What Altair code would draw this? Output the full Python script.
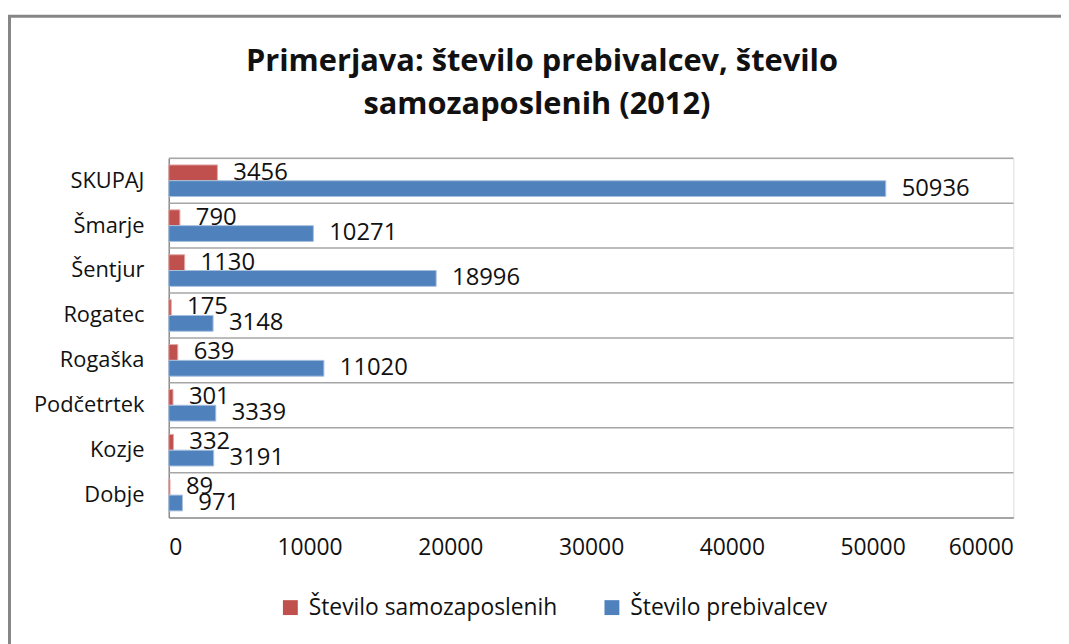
import altair as alt
import pandas as pd

categories = ["SKUPAJ", "Šmarje", "Šentjur", "Rogatec", "Rogaška", "Podčetrtek", "Kozje", "Dobje"]
series = ["Število samozaposlenih", "Število prebivalcev"]
samozaposleni = [3456, 790, 1130, 175, 639, 301, 332, 89]
prebivalci = [50936, 10271, 18996, 3148, 11020, 3339, 3191, 971]
x_ticks = [0, 10000, 20000, 30000, 40000, 50000, 60000]
colors = ["#C0504D", "#4F81BD"]
outline = ["#E0A9A7", "#A7C0DE"]
title_lines = ["Primerjava: število prebivalcev, število", "samozaposlenih (2012)"]

rows = []
for c, s, p in zip(categories, samozaposleni, prebivalci):
    rows.append({"kraj": c, "serija": series[0], "vrednost": s})
    rows.append({"kraj": c, "serija": series[1], "vrednost": p})
df = pd.DataFrame(rows)
cat_df = pd.DataFrame({"kraj": categories})
title_df = pd.DataFrame({"t": title_lines, "line": [0, 1]})

FONT = "Open Sans"
W, H = 851, 362

y_enc = alt.Y("kraj:N", sort=categories, title=None,
              scale=alt.Scale(domain=categories, paddingInner=0, paddingOuter=0),
              axis=alt.Axis(domain=True, domainColor="#8C8C8C", domainWidth=1.5,
                            ticks=False, grid=False, labelFont=FONT, labelFontSize=22,
                            labelColor="#111111", labelPadding=25, labelLimit=300))
yoff = alt.YOffset("serija:N", sort=series,
                   scale=alt.Scale(domain=series, paddingInner=0, paddingOuter=0.42))
x_enc = alt.X("vrednost:Q", title=None,
              scale=alt.Scale(domain=[0, 60000], nice=False),
              axis=alt.Axis(values=x_ticks, grid=False, ticks=False, domain=True,
                            domainColor="#8C8C8C", domainWidth=1.5, labelFont=FONT,
                            labelFontSize=23, labelColor="#111111", labelPadding=19,
                            format="d"))

frame = alt.Chart(pd.DataFrame({"f": [0]})).mark_rect(
    filled=False, stroke="#868686", strokeWidth=3
).encode(x=alt.value(-160.5), x2=alt.value(1200), y=alt.value(-143), y2=alt.value(800))

title1 = alt.Chart(title_df).transform_filter("datum.line == 0").mark_text(
    font=FONT, fontSize=31, fontWeight="bold", color="#111111",
    align="center", baseline="middle"
).encode(text="t:N", x=alt.value(376), y=alt.value(-97))

title2 = alt.Chart(title_df).transform_filter("datum.line == 1").mark_text(
    font=FONT, fontSize=31, fontWeight="bold", color="#111111",
    align="center", baseline="middle"
).encode(text="t:N", x=alt.value(371), y=alt.value(-54))

grid = alt.Chart(cat_df).mark_rule(color="#A6A6A6", strokeWidth=1.5).encode(
    y=alt.Y("kraj:N", sort=categories, bandPosition=0),
    x=alt.datum(0), x2=alt.datum(60000),
)

bars = alt.Chart(df).mark_bar(strokeWidth=1).encode(
    y=y_enc, yOffset=yoff, x=x_enc,
    color=alt.Color("serija:N", sort=series,
                    scale=alt.Scale(domain=series, range=colors),
                    legend=alt.Legend(title=None, orient="none", direction="horizontal",
                                      legendX=111, legendY=441, symbolType="square",
                                      symbolSize=225, symbolStrokeWidth=0,
                                      labelFont=FONT, labelFontSize=23,
                                      labelColor="#111111", labelOffset=7,
                                      labelLimit=400, columnPadding=43)),
    stroke=alt.Stroke("serija:N", sort=series,
                      scale=alt.Scale(domain=series, range=outline), legend=None),
)

labels = alt.Chart(df).mark_text(
    align="left", baseline="middle", dx=16, font=FONT, fontSize=24, color="#111111"
).encode(y=alt.Y("kraj:N", sort=categories), yOffset=alt.YOffset("serija:N", sort=series),
         x=alt.X("vrednost:Q"), text=alt.Text("vrednost:Q", format="d"))

chart = alt.layer(frame, title1, title2, grid, bars, labels).properties(
    width=W, height=H,
    autosize=alt.AutoSizeParams(type="none"),
    padding={"left": 162, "top": 149, "right": 48, "bottom": 125},
).configure_view(stroke=None).configure(background="white")

chart.save("out.html", embed_options={"renderer": "svg", "actions": False})
